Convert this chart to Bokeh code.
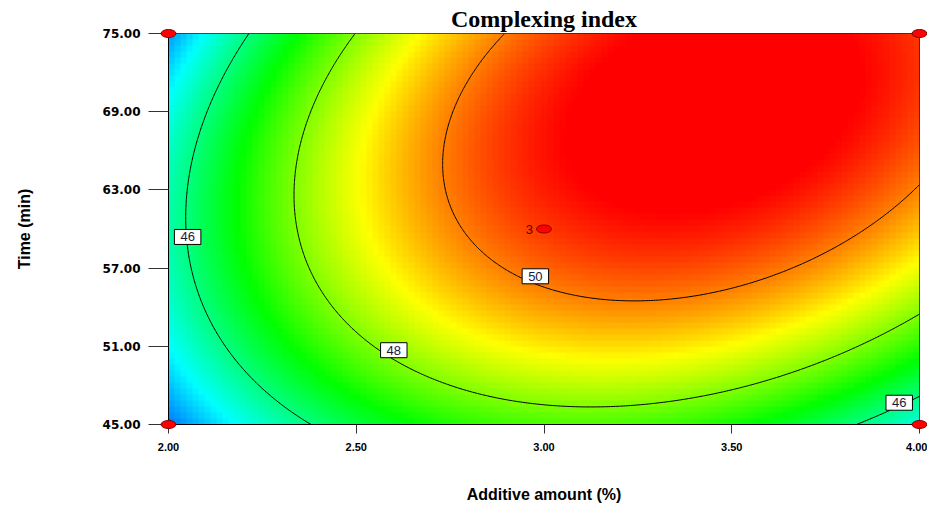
import numpy as np
from bokeh.plotting import figure
from bokeh.models import FixedTicker, PrintfTickFormatter, Label, ColumnDataSource
from bokeh.core.properties import value
from bokeh.embed import file_html
from bokeh.resources import INLINE

# ---------------- data ----------------
additive_range = [2.0, 4.0]          # Additive amount (%)
time_range = [45.0, 75.0]            # Time (min)
x_ticks = [2.0, 2.5, 3.0, 3.5, 4.0]
y_ticks = [45.0, 51.0, 57.0, 63.0, 69.0, 75.0]

# quadratic response-surface coefficients (coded units)
coef_b0 = 50.56
coef_A = 1.917
coef_B = 1.408
coef_AB = 1.28
coef_A2 = -3.005
coef_B2 = -1.60

contour_levels = [44, 46, 48, 50]
label_texts = ["46", "48", "50", "46"]
label_x = [2.051, 2.600, 2.977, 3.946]
label_t = [59.39, 50.70, 56.37, 46.67]

design_x = [2.0, 2.0, 4.0, 4.0, 3.0]
design_t = [45.0, 75.0, 45.0, 75.0, 60.0]
design_reps = ["", "", "", "", "3"]

color_stops = [43.0, 45.0, 47.0, 49.0, 51.0]
color_rgb = [(0, 0, 255), (0, 255, 255), (0, 255, 0), (255, 255, 0), (255, 0, 0)]


def model(x, t):
    A = (x - 3.0) / 1.0
    B = (t - 60.0) / 15.0
    return (coef_b0 + coef_A * A + coef_B * B + coef_AB * A * B
            + coef_A2 * A * A + coef_B2 * B * B)


# ---------------- surface image ----------------
NX, NY = 125, 65
x0, x1 = additive_range
t0, t1 = time_range
xc = x0 + (np.arange(NX) + 0.5) * (x1 - x0) / NX
tc = t0 + (np.arange(NY) + 0.5) * (t1 - t0) / NY
XX, TT = np.meshgrid(xc, tc)
Z = model(XX, TT)

stops = np.array(color_stops)
cols = np.array(color_rgb, dtype=float)
r = np.interp(Z, stops, cols[:, 0])
g = np.interp(Z, stops, cols[:, 1])
b = np.interp(Z, stops, cols[:, 2])
img = np.empty(Z.shape, dtype=np.uint32)
view = img.view(dtype=np.uint8).reshape(Z.shape + (4,))
view[..., 0] = r.astype(np.uint8)
view[..., 1] = g.astype(np.uint8)
view[..., 2] = b.astype(np.uint8)
view[..., 3] = 255

# fine grid for contour lines
xf = np.linspace(x0, x1, 300)
tf = np.linspace(t0, t1, 300)
XF, TF = np.meshgrid(xf, tf)
ZF = model(XF, TF)

# ---------------- figure ----------------
p = figure(width=927, height=510, x_range=(x0, x1), y_range=(t0, t1),
           output_backend="svg", toolbar_location=None,
           min_border_left=168, min_border_right=8, min_border_top=33,
           min_border_bottom=86, background_fill_color="white",
           border_fill_color="white")

p.image_rgba(image=[img], x=x0, y=t0, dw=x1 - x0, dh=t1 - t0)
p.contour(xf, tf, ZF, levels=contour_levels, line_color="black", line_width=1)

for txt, lx, lt in zip(label_texts, label_x, label_t):
    p.add_layout(Label(x=lx, y=lt, text=txt, text_align="center",
                       text_baseline="middle", text_font="Liberation Sans",
                       text_font_size="13px", text_color="#1a1a3a",
                       background_fill_color="white", border_line_color="black",
                       border_line_width=1, padding=(6, 3)))

src = ColumnDataSource(dict(x=design_x, t=design_t, reps=design_reps))
p.ellipse(x="x", y="t", width=15, height=8, width_units="screen",
          height_units="screen", fill_color="#ff0000", line_color="#800000",
          line_width=1, source=src, level="overlay")
p.text(x="x", y="t", text="reps", source=src, x_offset=-11, text_align="right",
       text_baseline="middle", text_font=value("Liberation Sans"),
       text_font_size="13px", text_color="#5a0000", level="overlay")

# title
p.title.text = "Complexing index"
p.title.align = "center"
p.title.text_font = "Liberation Serif"
p.title.text_font_size = "24px"
p.title.text_font_style = "bold"
p.title.text_color = "black"
p.title.standoff = 4

# axes
p.xaxis.ticker = FixedTicker(ticks=x_ticks)
p.yaxis.ticker = FixedTicker(ticks=y_ticks)
p.xaxis.formatter = PrintfTickFormatter(format="%.2f")
p.yaxis.formatter = PrintfTickFormatter(format="%.2f")
p.xaxis.axis_label = "Additive amount (%)"
p.yaxis.axis_label = "Time (min)"
for ax in (p.xaxis, p.yaxis):
    ax.minor_tick_line_color = None
    ax.major_tick_in = 0
    ax.axis_line_color = "black"
    ax.major_tick_line_color = "#333333"
    ax.major_label_text_color = "black"
    ax.major_label_text_font_style = "bold"
    ax.axis_label_text_font = "Liberation Sans"
    ax.axis_label_text_font_style = "bold"
    ax.axis_label_text_font_size = "16px"
    ax.axis_label_text_color = "black"

p.yaxis.major_tick_out = 20
p.yaxis.major_label_standoff = 8
p.yaxis.major_label_text_font = "DejaVu Sans"
p.yaxis.major_label_text_font_size = "12px"
p.yaxis.axis_label_standoff = 67

p.xaxis.major_tick_out = 9
p.xaxis.major_label_standoff = 9
p.xaxis.major_label_text_font = "Liberation Sans"
p.xaxis.major_label_text_font_size = "11px"
p.xaxis.axis_label_standoff = 32

p.xgrid.visible = False
p.ygrid.visible = False
p.outline_line_color = "#222222"
p.outline_line_width = 1

open("out.html", "w").write(file_html(p, INLINE))
